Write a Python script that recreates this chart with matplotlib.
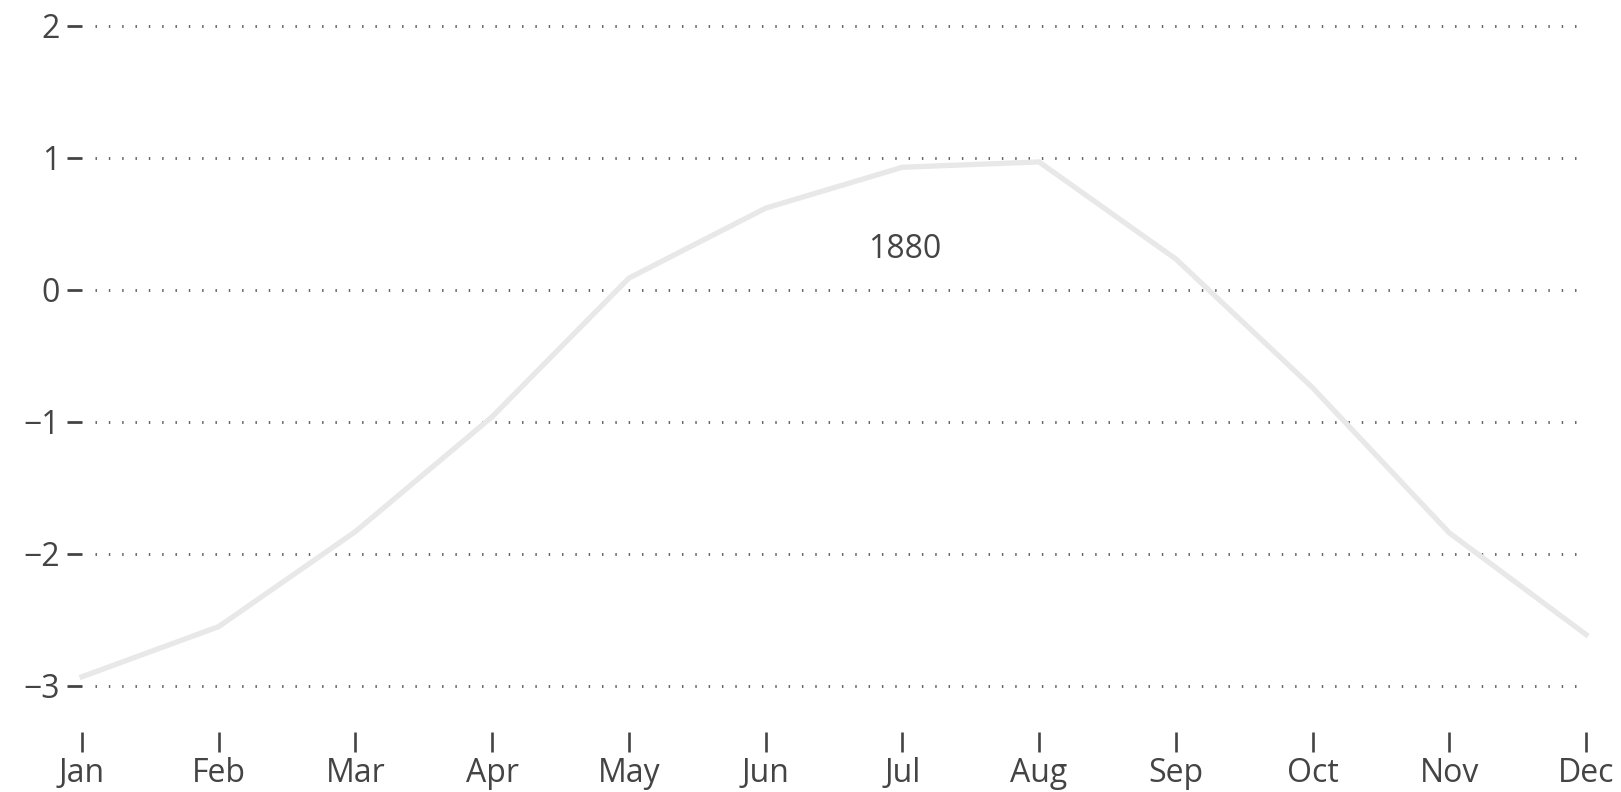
import matplotlib
matplotlib.use("Agg")
import matplotlib.pyplot as plt

months = ["Jan", "Feb", "Mar", "Apr", "May", "Jun", "Jul", "Aug", "Sep", "Oct", "Nov", "Dec"]
values_1880 = [-2.93, -2.55, -1.83, -0.96, 0.09, 0.62, 0.93, 0.97, 0.235, -0.74, -1.84, -2.61]
y_ticks = [-3, -2, -1, 0, 1, 2]
label_text = "1880"

plt.rcParams['font.family'] = ['Open Sans', 'DejaVu Sans']
W, H = 1621, 792
fig = plt.figure(figsize=(W / 100, H / 100), dpi=100)
left, right, bottom, top = 82, 1586, 732, 20
ax = fig.add_axes([left / W, 1 - bottom / H, (right - left) / W, (bottom - top) / H])

ax.set_xlim(0, len(months) - 1)
ax.set_ylim(-3 - (732 - 686) / 132, 2 + (26 - 20) / 132)

for s in ax.spines.values():
    s.set_visible(False)

for v in y_ticks:
    ax.axhline(v, xmin=13 / 1504, xmax=1495 / 1504, color='#666666', lw=2.1,
               linestyle=(0, (0.5, 4.07)), zorder=1)

x = list(range(len(months)))
ax.plot(x, values_1880, color='#e8e8e8', lw=3.8, solid_joinstyle='miter', zorder=2, clip_on=False)

ax.text((905 - 82) / 136.73, 0.242, label_text, ha='center', va='baseline', fontsize=23, color='#444444')

ax.set_xticks(x)
ax.set_xticklabels(months)
ax.set_yticks(y_ticks)
ax.set_yticklabels([str(v).replace('-', '\u2212') for v in y_ticks])
ax.tick_params(axis='x', length=14.4, width=1.9, color='#444444', pad=3.5, labelsize=23, labelcolor='#444444')
ax.tick_params(axis='y', length=10.8, width=2.0, color='#444444', pad=5, labelsize=23, labelcolor='#444444')

fig.savefig("out.png", dpi=100, facecolor='white')
